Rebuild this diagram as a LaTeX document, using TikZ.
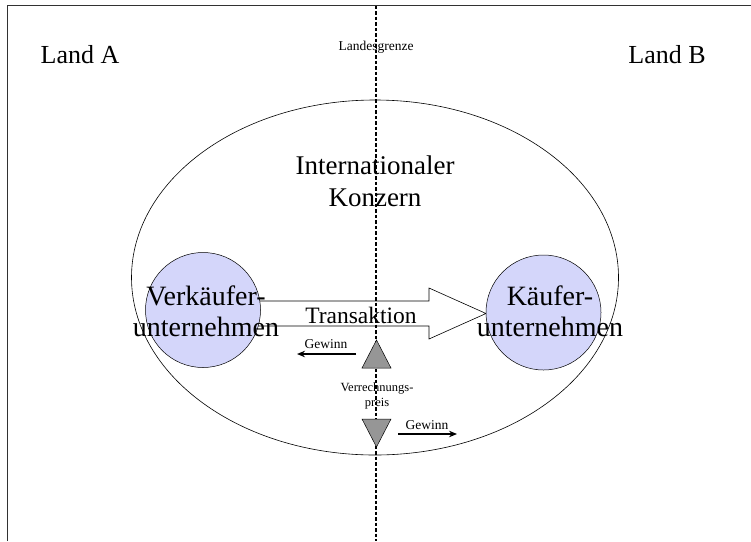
\documentclass[tikz,border=0pt]{standalone}
\usepackage{fontspec}
\setmainfont{Liberation Serif}
\usetikzlibrary{arrows.meta,shapes.geometric}
\definecolor{circfill}{RGB}{212,214,250}
\definecolor{trifill}{RGB}{150,150,150}
\definecolor{framecol}{RGB}{50,50,50}
\tikzset{
  big/.style={font=\fontsize{27}{32}\selectfont, align=center, inner sep=0pt},
  land/.style={font=\fontsize{26}{31}\selectfont, inner sep=0pt},
  firmtext/.style={font=\fontsize{28}{31}\selectfont, align=center, inner sep=0pt},
  mid/.style={font=\fontsize{23.5}{26}\selectfont, inner sep=0pt},
  small/.style={font=\fontsize{12.5}{15}\selectfont, align=center, inner sep=0pt},
  smalltext/.style={font=\fontsize{13.5}{15}\selectfont, inner sep=0pt},
  firm/.style={circle, draw=black, line width=0.5pt, fill=circfill, minimum size=115pt, inner sep=0pt},
  tri/.style={draw=black, line width=0.5pt, fill=trifill},
  gain/.style={line width=1.5pt, -{Stealth[length=8pt,width=6.5pt]}},
  border/.style={dash pattern=on 3.5pt off 2pt, line width=1.6pt}
}
\begin{document}
\begin{tikzpicture}[x=1pt,y=-1pt]
\useasboundingbox (0,0) rectangle (751,541);
% frame
\draw[framecol, line width=1.5pt] (7.5,541) -- (7.5,5.5) -- (751,5.5);
% ellipse
\node[ellipse, draw=black, line width=0.6pt, minimum width=487pt, minimum height=355pt, inner sep=0pt] (konzern) at (375,277.5) {};
% transaction arrow
\draw[fill=white, line width=0.6pt] (200,301) -- (429,301) -- (429,288) -- (486,313.5) -- (429,339) -- (429,326) -- (200,326) -- cycle;
% firms
\node[firm] (seller) at (203,310) {};
\node[firm] (buyer) at (543.5,312.5) {};
% border
\coordinate (btop) at (376,5.5);
\coordinate (bbot) at (376,541);
\draw[border] (btop) -- (bbot);
% triangles
\draw[tri] (362,368) -- (391,368) -- (376.5,340) -- cycle;
\draw[tri] (362,419) -- (391,419) -- (376.5,447) -- cycle;
% texts
\node[land] (landA) at (80,55) {Land A};
\node[land] (landB) at (667,55) {Land B};
\node[smalltext] (grenze) at (376,47) {Landesgrenze};
\node[big] (intl) at (375,181) {Internationaler\\Konzern};
\node[firmtext] (tseller) at (206,311) {Verkäufer-\\unternehmen};
\node[firmtext] (tbuyer) at (550,311) {Käufer-\\unternehmen};
\node[mid] (trans) at (361,315) {Transaktion};
\node[small] (vp) at (377,396) {Verrechnungs-\\preis};
\node[smalltext] (g1) at (326,344) {Gewinn};
\node[smalltext] (g2) at (427,425) {Gewinn};
\coordinate (g1s) at (356,354);
\coordinate (g1e) at (297,354);
\coordinate (g2s) at (398,434);
\coordinate (g2e) at (457,434);
\draw[gain] (g1s) -- (g1e);
\draw[gain] (g2s) -- (g2e);
\end{tikzpicture}
\end{document}
